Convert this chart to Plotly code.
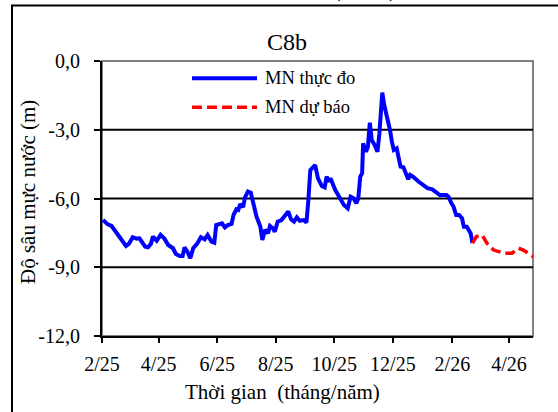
import plotly.graph_objects as go

# ---------------- data ----------------
obs_name = "MN thực đo"
fc_name = "MN dự báo"

obs_dates = [
    "2025-02-02", "2025-02-07", "2025-02-11", "2025-02-14", "2025-02-18", "2025-02-21",
    "2025-02-26", "2025-03-01", "2025-03-05", "2025-03-09", "2025-03-12", "2025-03-18",
    "2025-03-21", "2025-03-24", "2025-03-26", "2025-03-30", "2025-04-03", "2025-04-07",
    "2025-04-11", "2025-04-16", "2025-04-19", "2025-04-23", "2025-04-26", "2025-04-28",
    "2025-05-01", "2025-05-04", "2025-05-07", "2025-05-11", "2025-05-15", "2025-05-19",
    "2025-05-22", "2025-05-26", "2025-05-29", "2025-05-31", "2025-06-06", "2025-06-09",
    "2025-06-12", "2025-06-16", "2025-06-18", "2025-06-21", "2025-06-23", "2025-06-25",
    "2025-06-28", "2025-06-30", "2025-07-03", "2025-07-06", "2025-07-09", "2025-07-12",
    "2025-07-16", "2025-07-18", "2025-07-21", "2025-07-24", "2025-07-26", "2025-07-29",
    "2025-07-31", "2025-08-03", "2025-08-07", "2025-08-11", "2025-08-14", "2025-08-17",
    "2025-08-20", "2025-08-23", "2025-08-26", "2025-08-30", "2025-09-02", "2025-09-04",
    "2025-09-06", "2025-09-11", "2025-09-14", "2025-09-18", "2025-09-21", "2025-09-23",
    "2025-09-26", "2025-09-27", "2025-10-02", "2025-10-07", "2025-10-11", "2025-10-15",
    "2025-10-18", "2025-10-21", "2025-10-24", "2025-10-26", "2025-10-28", "2025-10-30",
    "2025-10-31", "2025-11-03", "2025-11-05", "2025-11-07", "2025-11-09", "2025-11-12",
    "2025-11-15", "2025-11-17", "2025-11-20", "2025-11-22", "2025-11-25", "2025-11-28",
    "2025-11-30", "2025-12-02", "2025-12-05", "2025-12-07", "2025-12-09", "2025-12-12",
    "2025-12-15", "2025-12-17", "2025-12-19", "2025-12-22", "2025-12-28", "2026-01-02",
    "2026-01-06", "2026-01-11", "2026-01-16", "2026-01-19", "2026-01-26", "2026-01-28",
    "2026-01-31", "2026-02-02", "2026-02-05", "2026-02-08", "2026-02-11", "2026-02-13",
    "2026-02-16", "2026-02-20", "2026-02-22",
]
obs_depth = [
    -6.94, -7.13, -7.20, -7.37, -7.63, -7.74,
    -8.07, -7.98, -7.69, -7.75, -7.74, -8.10,
    -8.13, -7.98, -7.66, -7.84, -7.59, -7.75,
    -8.03, -8.17, -8.42, -8.51, -8.51, -8.13,
    -8.32, -8.61, -8.17, -7.98, -7.69, -7.78,
    -7.59, -7.88, -7.93, -7.16, -7.08, -7.26,
    -7.16, -7.11, -6.72, -6.47, -6.50, -6.24,
    -6.38, -5.95, -5.70, -5.75, -6.36, -6.79,
    -7.23, -7.81, -7.37, -7.52, -7.20, -7.30,
    -7.45, -7.01, -6.94, -6.72, -6.57, -6.91,
    -7.01, -6.82, -6.97, -6.94, -7.05, -6.06,
    -4.76, -4.54, -5.12, -5.45, -5.51, -5.05,
    -5.27, -5.12, -5.63, -5.99, -6.28, -6.43,
    -5.92, -5.99, -6.21, -5.99, -5.05, -4.90,
    -3.59, -3.96, -3.74, -2.69, -3.45, -3.66,
    -3.96, -3.16, -1.38, -1.92, -2.43, -3.01,
    -3.52, -3.88, -3.81, -4.25, -4.61, -4.64,
    -4.90, -5.16, -4.97, -5.05, -5.27, -5.45,
    -5.55, -5.60, -5.77, -5.85, -5.85, -5.92,
    -6.21, -6.33, -6.72, -6.72, -6.86, -7.23,
    -7.23, -7.52, -7.95,
]

fc_dates = [
    "2026-02-22", "2026-02-26", "2026-03-04", "2026-03-09", "2026-03-16", "2026-03-27",
    "2026-04-04", "2026-04-11", "2026-04-16", "2026-04-23", "2026-04-29",
]
fc_depth = [
    -7.95, -7.66, -7.59, -7.95, -8.25, -8.39,
    -8.39, -8.17, -8.25, -8.46, -8.61,
]

x_tickvals = ["2025-02-01", "2025-04-01", "2025-06-01", "2025-08-01",
              "2025-10-01", "2025-12-01", "2026-02-01", "2026-04-01"]
x_ticktext = ["2/25", "4/25", "6/25", "8/25", "10/25", "12/25", "2/26", "4/26"]
x_range = ["2025-02-01", "2026-04-26"]

y_tickvals = [0, -3, -6, -9, -12]
y_ticktext = ["0,0", "-3,0", "-6,0", "-9,0", "-12,0"]
y_range = [-12, 0]

chart_title = "C8b"
x_title = "Thời gian  (tháng/năm)"
y_title = "Độ sâu mực nước (m)"

# ---------------- layout geometry ----------------
W, H = 558, 412
ML, MR, MT, MB = 102, 25, 61, 76
PW, PH = W - ML - MR, H - MT - MB
FONT = "Times New Roman, Liberation Serif, Tinos, DejaVu Serif, serif"


def px2x(px):
    return (px - ML) / PW


def py2y(py):
    return (H - MB - py) / PH


fig = go.Figure()
fig.add_trace(go.Scatter(x=obs_dates, y=obs_depth, mode="lines", name=obs_name,
                         line=dict(color="#0000FF", width=4), showlegend=False))
fig.add_trace(go.Scatter(x=fc_dates, y=fc_depth, mode="lines", name=fc_name,
                         line=dict(color="#FF0000", width=3.5, dash="10px,5px"),
                         showlegend=False))

shapes = []
# plot area border (gray)
shapes.append(dict(type="rect", xref="paper", yref="paper", x0=0, x1=1, y0=0, y1=1,
                   line=dict(color="#808080", width=2), layer="below"))
# horizontal gridlines
for v in y_tickvals:
    if v not in (y_range[0], y_range[1]):
        shapes.append(dict(type="line", xref="paper", yref="y", x0=0, x1=1, y0=v, y1=v,
                           line=dict(color="black", width=2), layer="below"))
# outer chart border
shapes.append(dict(type="rect", xref="paper", yref="paper",
                   x0=px2x(12), x1=px2x(620), y0=py2y(430), y1=py2y(5.5),
                   line=dict(color="black", width=2)))
# custom legend samples
shapes.append(dict(type="line", xref="paper", yref="paper",
                   x0=px2x(192), x1=px2x(257), y0=py2y(78.3), y1=py2y(78.3),
                   line=dict(color="#0000FF", width=4)))
shapes.append(dict(type="line", xref="paper", yref="paper",
                   x0=px2x(192), x1=px2x(257), y0=py2y(107.3), y1=py2y(107.3),
                   line=dict(color="#FF0000", width=3.5, dash="10px,5px")))

annotations = [
    dict(text=chart_title, xref="paper", yref="paper", x=px2x(287), y=py2y(42),
         xanchor="center", yanchor="middle", showarrow=False,
         font=dict(family=FONT, size=24, color="black")),
    dict(text=x_title, xref="paper", yref="paper", x=px2x(282), y=py2y(392),
         xanchor="center", yanchor="middle", showarrow=False,
         font=dict(family=FONT, size=21, color="black")),
    dict(text=y_title, xref="paper", yref="paper", x=px2x(28), y=py2y(192),
         xanchor="center", yanchor="middle", showarrow=False, textangle=-90,
         font=dict(family=FONT, size=21, color="black")),
    dict(text=obs_name, xref="paper", yref="paper", x=px2x(263), y=py2y(78.3),
         xanchor="left", yanchor="middle", showarrow=False,
         font=dict(family=FONT, size=18.5, color="black")),
    dict(text=fc_name, xref="paper", yref="paper", x=px2x(263), y=py2y(107.3),
         xanchor="left", yanchor="middle", showarrow=False,
         font=dict(family=FONT, size=18.5, color="black")),
    dict(text="(", xref="paper", yref="paper", x=px2x(337), y=py2y(4),
         xanchor="center", yanchor="bottom", showarrow=False,
         font=dict(family=FONT, size=20, color="black")),
    dict(text=")", xref="paper", yref="paper", x=px2x(392), y=py2y(4),
         xanchor="center", yanchor="bottom", showarrow=False,
         font=dict(family=FONT, size=20, color="black")),
]

fig.update_layout(
    width=W, height=H,
    margin=dict(l=ML, r=MR, t=MT, b=MB, pad=0),
    paper_bgcolor="white", plot_bgcolor="white",
    font=dict(family=FONT, size=20, color="black"),
    shapes=shapes, annotations=annotations,
    showlegend=False,
    xaxis=dict(type="date", range=x_range, tickvals=x_tickvals, ticktext=x_ticktext,
               showgrid=False, zeroline=False, showline=True, linecolor="black",
               linewidth=2, ticks="outside", ticklen=5, tickwidth=2, tickcolor="black",
               tickfont=dict(family=FONT, size=20, color="black"), ticklabelstandoff=4),
    yaxis=dict(range=y_range, tickvals=y_tickvals, ticktext=y_ticktext,
               showgrid=False, zeroline=False, showline=True, linecolor="black",
               linewidth=2, ticks="outside", ticklen=6, tickwidth=2, tickcolor="black",
               tickfont=dict(family=FONT, size=20, color="black"), ticklabelstandoff=10),
)

fig.write_html("out.html", config={"displayModeBar": False},
               post_script="document.body.style.margin='0';")
